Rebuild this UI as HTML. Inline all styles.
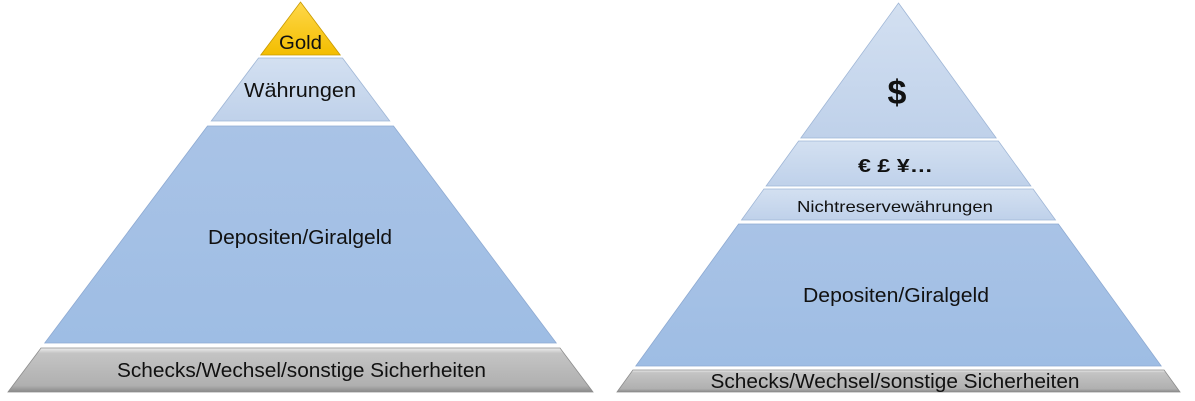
<!DOCTYPE html>
<html><head><meta charset="utf-8"><style>
html,body{margin:0;padding:0;background:#fff;}
svg{display:block;}
text{font-family:"Liberation Sans",sans-serif;fill:#111;text-anchor:middle;}
</style></head><body>
<svg width="1195" height="401" viewBox="0 0 1195 401" xmlns="http://www.w3.org/2000/svg">
<defs>
<linearGradient id="gold" x1="0" y1="0" x2="0" y2="1"><stop offset="0" stop-color="#ffd84a"/><stop offset="1" stop-color="#f3bd00"/></linearGradient>
<linearGradient id="lb" x1="0" y1="0" x2="0" y2="1"><stop offset="0" stop-color="#d3e0f1"/><stop offset="1" stop-color="#bfd1ea"/></linearGradient>
<linearGradient id="db" x1="0" y1="0" x2="0" y2="1"><stop offset="0" stop-color="#a9c3e6"/><stop offset="1" stop-color="#9ebde4"/></linearGradient>
<linearGradient id="gr" x1="0" y1="0" x2="0" y2="1"><stop offset="0" stop-color="#eeeeee"/><stop offset="0.12" stop-color="#c4c4c4"/><stop offset="0.85" stop-color="#b0b0b0"/><stop offset="1" stop-color="#8a8a8a"/></linearGradient>
</defs>
<!-- left -->
<polygon points="300.5,2 340.25,55 260.75,55" fill="url(#gold)" stroke="#c99a00" stroke-width="0.8"/>
<polygon points="258.5,58 342.5,58 389.75,121 211.25,121" fill="url(#lb)" stroke="#9fb6d6" stroke-width="0.8"/>
<polygon points="207.5,126 393.5,126 556.25,343 44.75,343" fill="url(#db)" stroke="#8eaad2" stroke-width="0.8"/>
<polygon points="41,348 560,348 593,392 8,392" fill="url(#gr)" stroke="#8c8c8c" stroke-width="0.8"/>
<text x="300.5" y="49" font-size="19" textLength="43" lengthAdjust="spacingAndGlyphs">Gold</text>
<text x="300" y="97" font-size="20" textLength="112" lengthAdjust="spacingAndGlyphs">Währungen</text>
<text x="300" y="244" font-size="20" textLength="184" lengthAdjust="spacingAndGlyphs">Depositen/Giralgeld</text>
<text x="301.5" y="377" font-size="20" textLength="369" lengthAdjust="spacingAndGlyphs">Schecks/Wechsel/sonstige Sicherheiten</text>
<!-- right -->
<polygon points="898.5,3 996.2,138 800.8,138" fill="url(#lb)" stroke="#9fb6d6" stroke-width="0.8"/>
<polygon points="798.6,141 998.4,141 1030.9,186 766.1,186" fill="url(#lb)" stroke="#9fb6d6" stroke-width="0.8"/>
<polygon points="763.9,189 1033.1,189 1055.5,220 741.5,220" fill="url(#lb)" stroke="#9fb6d6" stroke-width="0.8"/>
<polygon points="738.6,224 1058.4,224 1161.2,366 635.8,366" fill="url(#db)" stroke="#8eaad2" stroke-width="0.8"/>
<polygon points="632.9,370 1164.1,370 1180,392 617,392" fill="url(#gr)" stroke="#8c8c8c" stroke-width="0.8"/>
<text x="897" y="104" font-size="34" font-weight="bold">$</text>
<text x="895.5" y="172" font-size="18" font-weight="bold" textLength="75" lengthAdjust="spacingAndGlyphs">€  £  ¥…</text>
<text x="895" y="212" font-size="16" textLength="196" lengthAdjust="spacingAndGlyphs">Nichtreservewährungen</text>
<text x="896" y="302" font-size="20" textLength="186" lengthAdjust="spacingAndGlyphs">Depositen/Giralgeld</text>
<text x="895" y="388" font-size="20" textLength="369" lengthAdjust="spacingAndGlyphs">Schecks/Wechsel/sonstige Sicherheiten</text>
</svg>
</body></html>
